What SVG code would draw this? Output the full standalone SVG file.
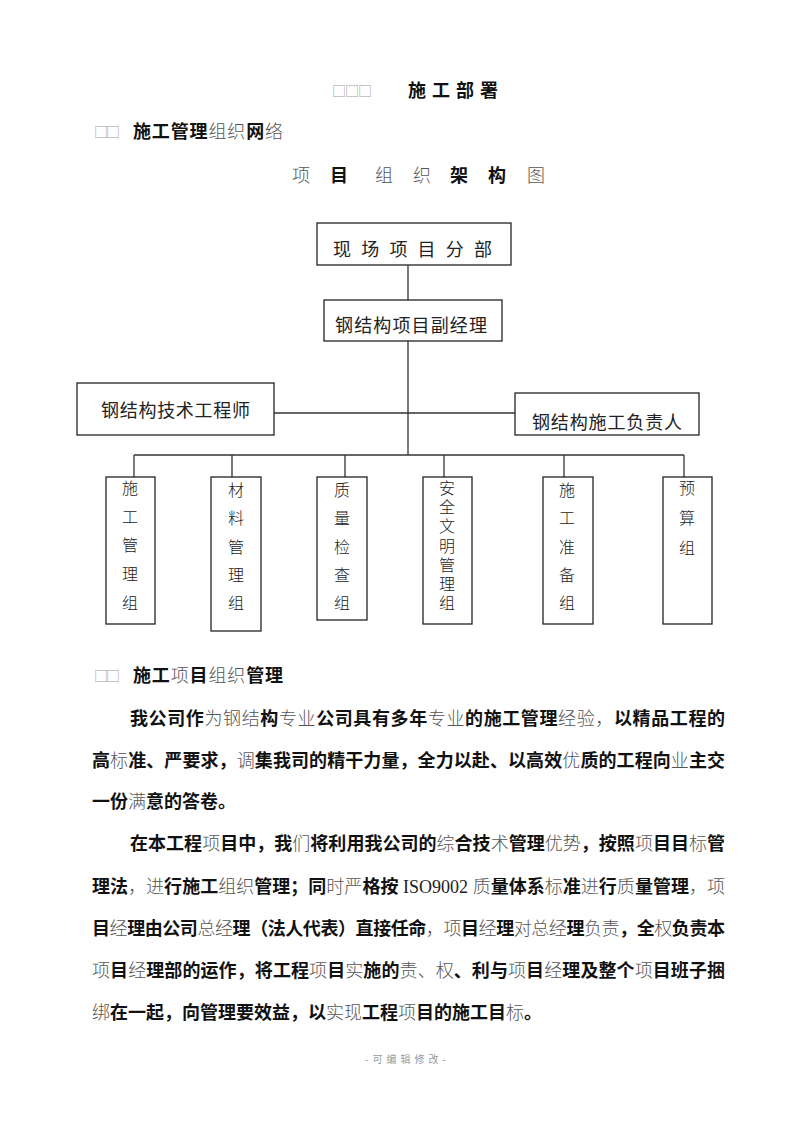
<svg xmlns="http://www.w3.org/2000/svg" width="800" height="1132" viewBox="0 0 800 1132">
<style>
text{font-family:"Noto Sans CJK SC","Noto Sans",sans-serif;}
.b{font-weight:700;fill:#111;}
.l{font-weight:300;fill:#555;}
.g{font-weight:300;fill:#999;}
.box{fill:#fff;stroke:#222;stroke-width:1.3;}
.ln{fill:none;stroke:#333;stroke-width:1.3;}
.lbl{font-size:18px;font-weight:400;fill:#222;}
.v{font-size:16px;font-weight:300;fill:#222;writing-mode:vertical-rl;}
.h{font-size:18px;}
.p{font-size:18px;}
.serif{font-family:"Liberation Serif",serif;font-weight:400;fill:#222;}
</style>
<rect width="800" height="1132" fill="#fff"/>

<!-- headings -->
<g id="title">
<text x="332" y="96" class="g" font-size="14" textLength="40" lengthAdjust="spacing">□□□</text>
<text x="408" y="97" class="b h" textLength="90" lengthAdjust="spacing">施 工 部 署</text>
</g>
<g id="heading1">
<text x="94" y="137" class="g" font-size="14" textLength="26" lengthAdjust="spacing">□□</text>
<text x="133" y="138" class="h" textLength="150" lengthAdjust="spacing"><tspan class="b">施工管理</tspan><tspan class="l">组织</tspan><tspan class="b">网</tspan><tspan class="l">络</tspan></text>
</g>
<g id="chart-title" class="h">
<text x="292" y="182" class="l">项</text>
<text x="330" y="182" class="b">目</text>
<text x="375" y="182" class="l">组</text>
<text x="413" y="182" class="l">织</text>
<text x="450" y="182" class="b">架</text>
<text x="488" y="182" class="b">构</text>
<text x="527" y="182" class="l">图</text>
</g>

<!-- connectors -->
<g id="connectors">
<line class="ln" x1="408" y1="265" x2="408" y2="300"/>
<line class="ln" x1="408" y1="341" x2="408" y2="455"/>
<line class="ln" x1="274" y1="413" x2="515" y2="413"/>
<line class="ln" x1="134" y1="455" x2="684" y2="455"/>
<line class="ln" x1="134" y1="455" x2="134" y2="477"/>
<line class="ln" x1="232" y1="455" x2="232" y2="477"/>
<line class="ln" x1="345" y1="455" x2="345" y2="477"/>
<line class="ln" x1="444" y1="455" x2="444" y2="477"/>
<line class="ln" x1="564" y1="455" x2="564" y2="477"/>
<line class="ln" x1="684" y1="455" x2="684" y2="477"/>
</g>

<!-- nodes -->
<g id="node-site">
<rect class="box" x="317" y="223" width="194" height="42"/>
<text x="333" y="256" class="lbl" textLength="159" lengthAdjust="spacing">现 场 项 目 分 部</text>
</g>
<g id="node-deputy">
<rect class="box" x="324" y="300" width="178" height="41"/>
<text x="335" y="332" class="lbl" font-size="19" textLength="152" lengthAdjust="spacing">钢结构项目副经理</text>
</g>
<g id="node-engineer">
<rect class="box" x="77" y="383" width="197" height="52"/>
<text x="101" y="417" class="lbl" textLength="149" lengthAdjust="spacing">钢结构技术工程师</text>
</g>
<g id="node-leader">
<rect class="box" x="515" y="393" width="184" height="42"/>
<text x="532" y="429" class="lbl" textLength="150" lengthAdjust="spacing">钢结构施工负责人</text>
</g>

<g id="node-g1">
<rect class="box" x="106" y="477" width="49" height="147"/>
<text class="v" x="130" y="480" letter-spacing="12.7">施工管理组</text>
</g>
<g id="node-g2">
<rect class="box" x="211" y="477" width="50" height="154"/>
<text class="v" x="236" y="482" letter-spacing="12.3">材料管理组</text>
</g>
<g id="node-g3">
<rect class="box" x="317" y="477" width="50" height="143"/>
<text class="v" x="342" y="482" letter-spacing="12.3">质量检查组</text>
</g>
<g id="node-g4">
<rect class="box" x="423" y="477" width="49" height="147"/>
<text class="v" x="447" y="480" letter-spacing="3.2">安全文明管理组</text>
</g>
<g id="node-g5">
<rect class="box" x="543" y="477" width="50" height="147"/>
<text class="v" x="567" y="482" letter-spacing="12.3">施工准备组</text>
</g>
<g id="node-g6">
<rect class="box" x="663" y="477" width="49" height="147"/>
<text class="v" x="687" y="480" letter-spacing="14">预算组</text>
</g>

<!-- section 2 -->
<g id="heading2">
<text x="94" y="681" class="g" font-size="14" textLength="26" lengthAdjust="spacing">□□</text>
<text x="133" y="682" class="h" textLength="150" lengthAdjust="spacing"><tspan class="b">施工</tspan><tspan class="l">项</tspan><tspan class="b">目</tspan><tspan class="l">组织</tspan><tspan class="b">管理</tspan></text>
</g>
<g id="paragraphs" class="p">
<text x="130" y="725" textLength="595" lengthAdjust="spacing"><tspan class="b">我公司作</tspan><tspan class="l">为钢结</tspan><tspan class="b">构</tspan><tspan class="l">专业</tspan><tspan class="b">公司具有多年</tspan><tspan class="l">专业</tspan><tspan class="b">的施工管理</tspan><tspan class="l">经验，</tspan><tspan class="b">以精品工程的</tspan></text>
<text x="92" y="767" textLength="633" lengthAdjust="spacing"><tspan class="b">高</tspan><tspan class="l">标</tspan><tspan class="b">准、严要求，</tspan><tspan class="l">调</tspan><tspan class="b">集我司的精干力量，全力以赴、以高效</tspan><tspan class="l">优</tspan><tspan class="b">质的工程向</tspan><tspan class="l">业</tspan><tspan class="b">主交</tspan></text>
<text x="92" y="808"><tspan class="b">一份</tspan><tspan class="l">满</tspan><tspan class="b">意的答卷。</tspan></text>
<text x="130" y="850" textLength="595" lengthAdjust="spacing"><tspan class="b">在本工程</tspan><tspan class="l">项</tspan><tspan class="b">目中，我</tspan><tspan class="l">们</tspan><tspan class="b">将利用我公司的</tspan><tspan class="l">综</tspan><tspan class="b">合技</tspan><tspan class="l">术</tspan><tspan class="b">管理</tspan><tspan class="l">优势</tspan><tspan class="b">，按照</tspan><tspan class="l">项</tspan><tspan class="b">目目</tspan><tspan class="l">标</tspan><tspan class="b">管</tspan></text>
<text x="92" y="893" textLength="633" lengthAdjust="spacing"><tspan class="b">理法</tspan><tspan class="l">，进</tspan><tspan class="b">行施工</tspan><tspan class="l">组织</tspan><tspan class="b">管理；同</tspan><tspan class="l">时严</tspan><tspan class="b">格按</tspan><tspan class="serif"> ISO9002 </tspan><tspan class="l">质</tspan><tspan class="b">量体系</tspan><tspan class="l">标</tspan><tspan class="b">准</tspan><tspan class="l">进</tspan><tspan class="b">行</tspan><tspan class="l">质</tspan><tspan class="b">量管理</tspan><tspan class="l">，项</tspan></text>
<text x="92" y="935" textLength="633" lengthAdjust="spacing"><tspan class="b">目</tspan><tspan class="l">经</tspan><tspan class="b">理由公司</tspan><tspan class="l">总经</tspan><tspan class="b">理（法人代表）直接任命</tspan><tspan class="l">，项</tspan><tspan class="b">目</tspan><tspan class="l">经</tspan><tspan class="b">理</tspan><tspan class="l">对总经</tspan><tspan class="b">理</tspan><tspan class="l">负责</tspan><tspan class="b">，全</tspan><tspan class="l">权</tspan><tspan class="b">负责本</tspan></text>
<text x="92" y="977" textLength="633" lengthAdjust="spacing"><tspan class="l">项</tspan><tspan class="b">目</tspan><tspan class="l">经</tspan><tspan class="b">理部的运作，将工程</tspan><tspan class="l">项</tspan><tspan class="b">目</tspan><tspan class="l">实</tspan><tspan class="b">施的</tspan><tspan class="l">责、权</tspan><tspan class="b">、利与</tspan><tspan class="l">项</tspan><tspan class="b">目</tspan><tspan class="l">经</tspan><tspan class="b">理及整个</tspan><tspan class="l">项</tspan><tspan class="b">目班子捆</tspan></text>
<text x="92" y="1019"><tspan class="l">绑</tspan><tspan class="b">在一起，向管理要效益，以</tspan><tspan class="l">实现</tspan><tspan class="b">工程</tspan><tspan class="l">项</tspan><tspan class="b">目的施工目</tspan><tspan class="l">标</tspan><tspan class="b">。</tspan></text>
</g>
<g id="footer">
<text x="365" y="1063" font-size="10" fill="#999" textLength="81" lengthAdjust="spacing">-可编辑修改-</text>
</g>
</svg>
